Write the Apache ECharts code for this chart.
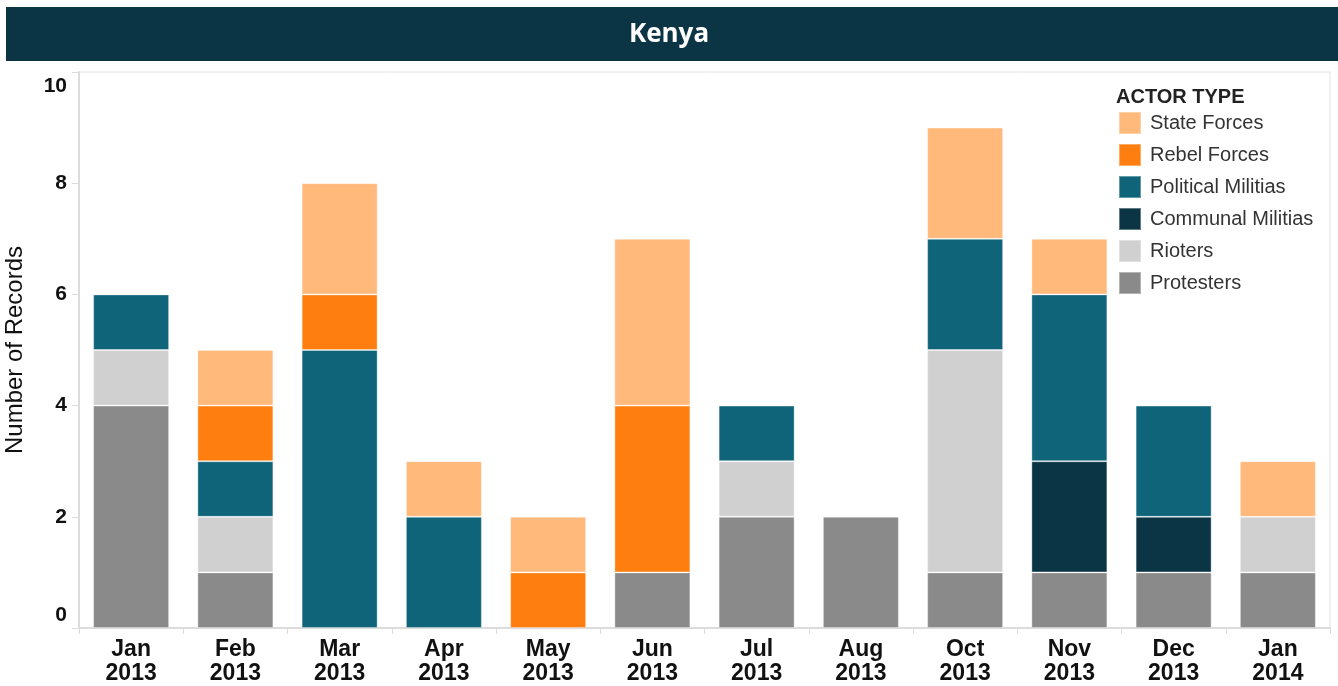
<!DOCTYPE html>
<html>
<head>
<meta charset="utf-8">
<script src="https://cdn.jsdelivr.net/npm/echarts@6/dist/echarts.min.js"></script>
<style>
html,body{margin:0;padding:0;background:#fff;}
#chart{width:1338px;height:686px;}
</style>
</head>
<body>
<div id="chart"></div>
<script>
const categories = ['Jan\n2013','Feb\n2013','Mar\n2013','Apr\n2013','May\n2013','Jun\n2013','Jul\n2013','Aug\n2013','Oct\n2013','Nov\n2013','Dec\n2013','Jan\n2014'];
const protesters       = [4, 1, 0, 0, 0, 1, 2, 2, 1, 1, 1, 1];
const rioters          = [1, 1, 0, 0, 0, 0, 1, 0, 4, 0, 0, 1];
const communalMilitias = [0, 0, 0, 0, 0, 0, 0, 0, 0, 2, 1, 0];
const politicalMilitias= [1, 1, 5, 2, 0, 0, 1, 0, 2, 3, 2, 0];
const rebelForces      = [0, 1, 1, 0, 1, 3, 0, 0, 0, 0, 0, 0];
const stateForces      = [0, 1, 2, 1, 1, 3, 0, 0, 2, 1, 0, 1];
const yTicks = [0, 2, 4, 6, 8, 10];

const seriesDefs = [
  {name: 'Protesters', data: protesters, color: '#8a8a8a'},
  {name: 'Rioters', data: rioters, color: '#d0d0d0'},
  {name: 'Communal Militias', data: communalMilitias, color: '#0b3545'},
  {name: 'Political Militias', data: politicalMilitias, color: '#10647a'},
  {name: 'Rebel Forces', data: rebelForces, color: '#fe7f10'},
  {name: 'State Forces', data: stateForces, color: '#ffb97b'}
];
const legendOrder = ['State Forces','Rebel Forces','Political Militias','Communal Militias','Rioters','Protesters'];

const chart = echarts.init(document.getElementById('chart'), null, {renderer: 'canvas'});
const font = 'Liberation Sans, Arial, sans-serif';

chart.setOption({
  animation: false,
  textStyle: {fontFamily: font},
  graphic: [
    {type: 'rect', shape: {x: 6, y: 7, width: 1332, height: 54}, style: {fill: '#0b3545'}, silent: true},
    {type: 'text', x: 669, y: 35, style: {text: 'Kenya', fill: '#ffffff', font: 'bold 26px "Open Sans", sans-serif', align: 'center', verticalAlign: 'middle'}},
    {type: 'text', x: 1116, y: 97, style: {text: 'ACTOR TYPE', fill: '#222', font: 'bold 20px "Liberation Sans", Arial, sans-serif', align: 'left', verticalAlign: 'middle'}}
  ],
  legend: {
    data: legendOrder,
    orient: 'vertical',
    left: 1118,
    top: 111,
    itemWidth: 22,
    itemHeight: 22,
    itemGap: 8,
    icon: 'rect',
    padding: 0,
    textStyle: {fontSize: 20, lineHeight: 22, color: '#333', fontFamily: font, padding: [0, 0, 0, 4]}
  },
  grid: {left: 79, right: 8, top: 72, bottom: 58, show: true, borderColor: '#e2e2e2', borderWidth: 1, containLabel: false, outerBoundsMode: 'none'},
  xAxis: {
    type: 'category',
    data: categories,
    axisLine: {lineStyle: {color: '#dcdcdc', width: 2}},
    axisTick: {show: true, length: 6, lineStyle: {color: '#dcdcdc'}},
    axisLabel: {fontSize: 23, fontWeight: 'bold', color: '#111', lineHeight: 24, margin: 10, interval: 0}
  },
  yAxis: {
    type: 'value',
    min: yTicks[0],
    max: yTicks[yTicks.length - 1],
    interval: 2,
    name: 'Number of Records',
    nameLocation: 'middle',
    nameRotate: 90,
    nameGap: 52,
    nameTextStyle: {fontSize: 24, color: '#111', fontFamily: font},
    splitLine: {show: false},
    axisLine: {show: true, lineStyle: {color: '#dcdcdc', width: 2}},
    axisTick: {show: true, length: 7, lineStyle: {color: '#dcdcdc'}},
    axisLabel: {
      fontSize: 21, fontWeight: 'bold', color: '#111', margin: 12,
      formatter: function (v) {
        if (v === 10) return '{t|' + v + '}';
        if (v === 0) return '{b|' + v + '}';
        return '{n|' + v + '}';
      },
      rich: {
        t: {fontSize: 21, fontWeight: 'bold', color: '#111', fontFamily: font, padding: [28, 0, 0, 0]},
        b: {fontSize: 21, fontWeight: 'bold', color: '#111', fontFamily: font, padding: [0, 0, 26, 0]},
        n: {fontSize: 21, fontWeight: 'bold', color: '#111', fontFamily: font}
      }
    }
  },
  series: seriesDefs.map(s => ({
    name: s.name,
    type: 'bar',
    stack: 'total',
    data: s.data.map(v => v === 0 ? null : v),
    barWidth: 76,
    itemStyle: {color: s.color, borderColor: 'rgba(255,255,255,0.35)', borderWidth: 1}
  }))
});
</script>
</body>
</html>
